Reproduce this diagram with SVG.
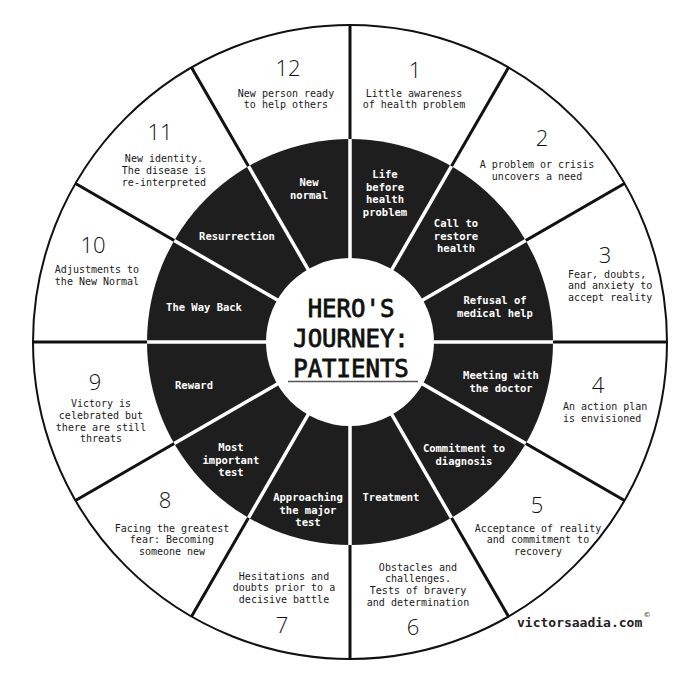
<svg xmlns="http://www.w3.org/2000/svg" width="700" height="700" viewBox="0 0 700 700">
<style>
.o{font-family:"DejaVu Sans Mono","Liberation Mono",monospace;font-size:10px;fill:#1a1a1a;text-anchor:middle}
.os{text-anchor:start}
.d{font-family:"DejaVu Sans Mono","Liberation Mono",monospace;font-size:10.5px;font-weight:bold;fill:#fff;text-anchor:middle}
.n{font-family:"Open Sans","DejaVu Sans",sans-serif;font-size:22px;font-weight:300;fill:#111;text-anchor:middle}
.t{font-family:"DejaVu Sans Mono","Liberation Mono",monospace;font-size:24px;font-weight:normal;fill:#111;stroke:#111;stroke-width:0.8;text-anchor:middle}
.bl{stroke:#111;stroke-width:3}
.wl{stroke:#fff;stroke-width:3.5}
</style>
<rect width="700" height="700" fill="#fff"/>
<circle cx="350" cy="342" r="317" fill="#fff" stroke="#111" stroke-width="2"/>
<g id="connectors">
<g class="bl">
<line x1="350" y1="25" x2="350" y2="659"/>
<line x1="508.5" y1="67.5" x2="191.5" y2="616.5"/>
<line x1="624.5" y1="183.5" x2="75.5" y2="500.5"/>
<line x1="667" y1="342" x2="33" y2="342"/>
<line x1="624.5" y1="500.5" x2="75.5" y2="183.5"/>
<line x1="508.5" y1="616.5" x2="191.5" y2="67.5"/>
</g>
<circle cx="350" cy="342" r="203" fill="#1e1e1e"/>
<g class="wl">
<line x1="350" y1="139" x2="350" y2="545"/>
<line x1="451.5" y1="166.2" x2="248.5" y2="517.8"/>
<line x1="525.8" y1="240.5" x2="174.2" y2="443.5"/>
<line x1="553" y1="342" x2="147" y2="342"/>
<line x1="525.8" y1="443.5" x2="174.2" y2="240.5"/>
<line x1="451.5" y1="517.8" x2="248.5" y2="166.2"/>
</g>
<circle cx="350" cy="342" r="84" fill="#fff"/>
</g>
<g id="center">
<text class="t" x="351" y="317">HERO'S</text>
<text class="t" x="351" y="347">JOURNEY:</text>
<text class="t" x="351" y="377">PATIENTS</text>
<line x1="288" y1="381.5" x2="418" y2="381.5" stroke="#555" stroke-width="1.6"/>
</g>
<g id="stage1">
<text class="n" x="415" y="78">1</text>
<text class="o" x="414"><tspan x="414" y="96.5">Little awareness</tspan><tspan x="414" y="108">of health problem</tspan></text>
<text class="d"><tspan x="385" y="177.8">Life</tspan><tspan x="385" y="190.5">before</tspan><tspan x="385" y="203">health</tspan><tspan x="385" y="215.8">problem</tspan></text>
</g>
<g id="stage2">
<text class="n" x="542" y="146">2</text>
<text class="o"><tspan x="537" y="167.5">A problem or crisis</tspan><tspan x="537" y="179.5">uncovers a need</tspan></text>
<text class="d"><tspan x="456" y="226.8">Call to</tspan><tspan x="456" y="239.5">restore</tspan><tspan x="456" y="252">health</tspan></text>
</g>
<g id="stage3">
<text class="n" x="605" y="263">3</text>
<text class="o os"><tspan x="568" y="277.5">Fear, doubts,</tspan><tspan x="568" y="289.2">and anxiety to</tspan><tspan x="568" y="300.9">accept reality</tspan></text>
<text class="d"><tspan x="495" y="303.8">Refusal of</tspan><tspan x="495" y="316.5">medical help</tspan></text>
</g>
<g id="stage4">
<text class="n" x="598" y="393">4</text>
<text class="o os"><tspan x="563" y="410">An action plan</tspan><tspan x="563" y="421.7">is envisioned</tspan></text>
<text class="d"><tspan x="501" y="378.8">Meeting with</tspan><tspan x="501" y="391.5">the doctor</tspan></text>
</g>
<g id="stage5">
<text class="n" x="537" y="513">5</text>
<text class="o"><tspan x="538" y="531.5">Acceptance of reality</tspan><tspan x="538" y="543">and commitment to</tspan><tspan x="538" y="554.5">recovery</tspan></text>
<text class="d"><tspan x="464" y="451.8">Commitment to</tspan><tspan x="464" y="464.5">diagnosis</tspan></text>
</g>
<g id="stage6">
<text class="n" x="413" y="635">6</text>
<text class="o"><tspan x="418" y="570.5">Obstacles and</tspan><tspan x="418" y="582">challenges.</tspan><tspan x="418" y="594">Tests of bravery</tspan><tspan x="418" y="605.5">and determination</tspan></text>
<text class="d" x="391" y="500.8">Treatment</text>
</g>
<g id="stage7">
<text class="n" x="282" y="633">7</text>
<text class="o"><tspan x="284" y="579.5">Hesitations and</tspan><tspan x="284" y="591">doubts prior to a</tspan><tspan x="284" y="602.5">decisive battle</tspan></text>
<text class="d"><tspan x="308" y="500.8">Approaching</tspan><tspan x="308" y="513.5">the major</tspan><tspan x="308" y="526">test</tspan></text>
</g>
<g id="stage8">
<text class="n" x="165" y="508">8</text>
<text class="o"><tspan x="172" y="531.5">Facing the greatest</tspan><tspan x="172" y="543">fear: Becoming</tspan><tspan x="172" y="555">someone new</tspan></text>
<text class="d"><tspan x="231" y="450.8">Most</tspan><tspan x="231" y="463.5">important</tspan><tspan x="231" y="476">test</tspan></text>
</g>
<g id="stage9">
<text class="n" x="95" y="390">9</text>
<text class="o"><tspan x="101" y="406.5">Victory is</tspan><tspan x="101" y="418.5">celebrated but</tspan><tspan x="101" y="430.5">there are still</tspan><tspan x="101" y="442">threats</tspan></text>
<text class="d" x="194" y="388.8">Reward</text>
</g>
<g id="stage10">
<text class="n" x="93" y="253">10</text>
<text class="o"><tspan x="97" y="272.5">Adjustments to</tspan><tspan x="97" y="284.5">the New Normal</tspan></text>
<text class="d" x="204" y="310.8">The Way Back</text>
</g>
<g id="stage11">
<text class="n" x="160" y="140">11</text>
<text class="o"><tspan x="164" y="161.5">New identity.</tspan><tspan x="164" y="173.5">The disease is</tspan><tspan x="164" y="185.5">re-interpreted</tspan></text>
<text class="d" x="237" y="239.8">Resurrection</text>
</g>
<g id="stage12">
<text class="n" x="288" y="76">12</text>
<text class="o"><tspan x="286" y="96.5">New person ready</tspan><tspan x="286" y="108">to help others</tspan></text>
<text class="d"><tspan x="309" y="185.8">New</tspan><tspan x="309" y="198.5">normal</tspan></text>
</g>
<g id="credit">
<text x="517" y="627" font-family="DejaVu Sans Mono,monospace" font-size="13" font-weight="bold" fill="#222">victorsaadia.com</text>
<text x="647" y="617" font-family="DejaVu Sans,sans-serif" font-size="7" fill="#222" text-anchor="middle">©</text>
</g>
</svg>
